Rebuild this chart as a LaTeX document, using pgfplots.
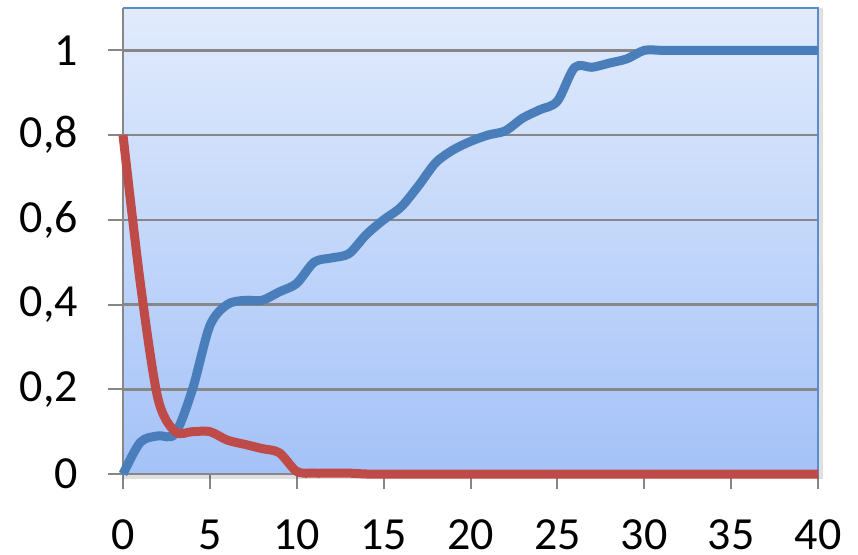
\documentclass[border=0pt]{standalone}
\usepackage{fontspec}
\setmainfont{Carlito}
\usepackage{pgfplots}
\pgfplotsset{compat=1.18}

\definecolor{serA}{HTML}{4A7EBB}
\definecolor{serB}{HTML}{BE4B48}
\definecolor{gridgray}{HTML}{878787}
\definecolor{bgtop}{HTML}{E1EBFC}
\definecolor{bgbot}{HTML}{A4C2F8}
\definecolor{frameblue}{HTML}{5B8CCF}

\pgfplotstableread{
x y
0 0
1 0.075
2 0.09
3 0.095
4 0.20
5 0.35
6 0.40
7 0.41
8 0.41
9 0.43
10 0.45
11 0.50
12 0.51
13 0.52
14 0.565
15 0.60
16 0.63
17 0.68
18 0.735
19 0.765
20 0.785
21 0.80
22 0.81
23 0.84
24 0.86
25 0.88
26 0.96
27 0.96
28 0.97
29 0.98
30 1.0
31 1.0
32 1.0
33 1.0
34 1.0
35 1.0
36 1.0
37 1.0
38 1.0
39 1.0
40 1.0
}\seriesA

\pgfplotstableread{
x y
0 0.80
1 0.45
2 0.18
3 0.10
4 0.10
5 0.10
6 0.08
7 0.07
8 0.06
9 0.05
10 0.006
11 0.002
12 0.002
13 0.002
14 0
15 0
20 0
25 0
30 0
35 0
40 0
}\seriesB

\begin{document}
\begin{tikzpicture}
\begin{axis}[
  name=ax,
  scale only axis, width=695bp, height=466bp,
  xmin=0, xmax=40, ymin=0, ymax=1.1,
  xtick={0,5,10,15,20,25,30,35,40},
  ytick={0,0.2,0.4,0.6,0.8,1},
  axis x line*=bottom, axis y line*=left,
  axis line style={gridgray, line width=2.5bp, -},
  tick align=outside, major tick length=15bp,
  tick style={gridgray, line width=2bp},
  ymajorgrids, grid style={gridgray, line width=2.5bp},
  axis background/.style={top color=bgtop, bottom color=bgbot},
  ticklabel style={font=\fontsize{46bp}{50bp}\selectfont, inner sep=0pt},
  yticklabel style={xshift=-30bp},
  xticklabel style={anchor=base, yshift=-60bp},
  /pgf/number format/assume math mode=true,
  /pgf/number format/use comma,
  clip=false,
]
% soft drop shadow along the bottom and right edges of the plot area
\draw[black, opacity=0.12, line width=4bp]
  ([yshift=-3bp]rel axis cs:0,0) -- ([xshift=3bp,yshift=-3bp]rel axis cs:1,0)
  -- ([xshift=3bp]rel axis cs:1,1);
% thin blue frame on the top and right sides of the plot area
\draw[frameblue, line width=1.5bp] (rel axis cs:0,1) -- (rel axis cs:1,1) -- (rel axis cs:1,0);
\addplot[serA, line width=9bp, smooth, tension=0.5, line join=round] table {\seriesA};
\addplot[serB, line width=9bp, smooth, tension=0.5, line join=round] table {\seriesB};
\end{axis}
\pgfresetboundingbox
\path ([shift={(-123bp,-81bp)}]ax.south west) rectangle ([shift={(40bp,8bp)}]ax.north east);
\end{tikzpicture}
\end{document}
